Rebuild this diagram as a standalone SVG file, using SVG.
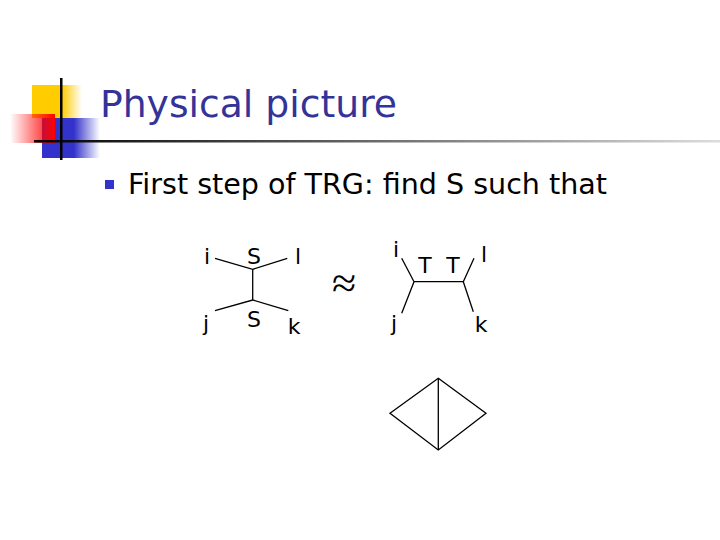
<svg xmlns="http://www.w3.org/2000/svg" width="720" height="540" viewBox="0 0 720 540">
<defs>
<linearGradient id="gy" x1="0" y1="0" x2="1" y2="0"><stop offset="0" stop-color="#ffcc00"/><stop offset="0.6" stop-color="#ffcc00"/><stop offset="1" stop-color="#ffcc00" stop-opacity="0"/></linearGradient>
<linearGradient id="gr" x1="0" y1="0" x2="1" y2="0"><stop offset="0" stop-color="#ff0000" stop-opacity="0"/><stop offset="1" stop-color="#ff0000"/></linearGradient>
<linearGradient id="gb" x1="0" y1="0" x2="1" y2="0"><stop offset="0" stop-color="#3333cc"/><stop offset="0.55" stop-color="#3333cc"/><stop offset="1" stop-color="#3333cc" stop-opacity="0"/></linearGradient>
<linearGradient id="gl" x1="0" y1="0" x2="1" y2="0"><stop offset="0" stop-color="#000"/><stop offset="0.4" stop-color="#555"/><stop offset="1" stop-color="#ddd"/></linearGradient>
<style>
.t{font-family:"DejaVu Sans",Verdana,sans-serif;fill:#000}
.lbl{font-size:22px}
.ln{stroke:#000;stroke-width:1.3;fill:none}
</style>
</defs>
<rect width="720" height="540" fill="#fff"/>
<g id="deco">
<rect x="32" y="85" width="50" height="33" fill="url(#gy)"/>
<rect x="42" y="118" width="58" height="40" fill="url(#gb)"/>
<rect x="10" y="114" width="45" height="29" fill="url(#gr)"/>
<rect x="34" y="140" width="686" height="2.5" fill="url(#gl)"/>
<rect x="60" y="78" width="2.5" height="82" fill="#000"/>
</g>
<text id="title" class="t" x="100" y="117" font-size="38" style="fill:#333399" textLength="297" lengthAdjust="spacingAndGlyphs">Physical picture</text>
<g id="bullet">
<rect x="105" y="180" width="9" height="9" fill="#3333cc"/>
<text class="t" x="128" y="194" font-size="28.5" textLength="479" lengthAdjust="spacingAndGlyphs">First step of TRG: find S such that</text>
</g>
<g id="connectors">
<polyline class="ln" points="215,258.3 252.7,269.3 287.3,258.3"/>
<line class="ln" x1="252.7" y1="269.3" x2="252.7" y2="300"/>
<polyline class="ln" points="215,310.7 252.7,300 288.3,310.7"/>
<polyline class="ln" points="401.7,258.3 414,281.7 401.7,313.3"/>
<line class="ln" x1="414" y1="281.7" x2="463.3" y2="281.7"/>
<polyline class="ln" points="474,258.3 463.3,281.7 473.3,311.7"/>
<polygon class="ln" points="438.3,378.3 486,413.3 438.3,450 390,413.3"/>
<line class="ln" x1="438.3" y1="378.3" x2="438.3" y2="450"/>
</g>
<g id="left-labels" class="t lbl">
<text x="207" y="264" text-anchor="middle">i</text>
<text x="254" y="264" text-anchor="middle">S</text>
<text x="298" y="264" text-anchor="middle">l</text>
<text x="206" y="331" text-anchor="middle">j</text>
<text x="254" y="327" text-anchor="middle">S</text>
<text x="294" y="334" text-anchor="middle">k</text>
</g>
<text id="approx" x="344" y="298" text-anchor="middle" font-family="'Liberation Serif',serif" font-size="44" fill="#000">≈</text>
<g id="right-labels" class="t lbl">
<text x="396" y="257" text-anchor="middle">i</text>
<text x="425" y="273" text-anchor="middle">T</text>
<text x="453" y="273" text-anchor="middle">T</text>
<text x="484" y="262" text-anchor="middle">l</text>
<text x="394" y="331" text-anchor="middle">j</text>
<text x="481" y="332" text-anchor="middle">k</text>
</g>
</svg>
